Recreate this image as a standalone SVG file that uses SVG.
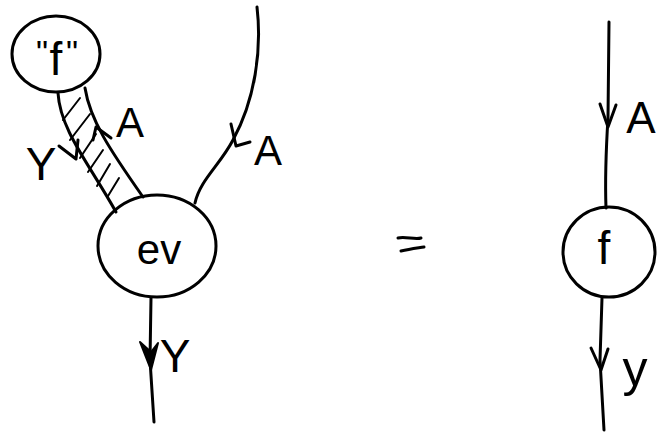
<svg xmlns="http://www.w3.org/2000/svg" width="658" height="439" viewBox="0 0 658 439">
<style>
.s{fill:none;stroke:#000;stroke-width:3;stroke-linecap:round;stroke-linejoin:round}
.h{fill:none;stroke:#000;stroke-width:2;stroke-linecap:round}
.t{font-family:"Liberation Sans",Arial,sans-serif;fill:#000}
</style>
<rect width="658" height="439" fill="#fff"/>
<g id="connectors">
  <path class="s" d="M58,93 C60,130 90,165 116,212"/>
  <path class="s" d="M85,88 C90,120 110,150 143,197"/>
  <g class="h">
    <path d="M63,120 L80,98"/><path d="M70,140 L90,114"/><path d="M80,158 L96,134"/>
    <path d="M88,172 L103,150"/><path d="M97,186 L110,164"/><path d="M108,196 L119,178"/>
  </g>
  <path class="s" d="M257,7 C262,50 255,100 233,140 C220,165 200,180 195,203"/>
  <path class="s" d="M151,298 L150,360 L154,422"/>
  <path class="s" d="M609,22 L608,118 C606,150 605,180 606,208"/>
  <path class="s" d="M602,298 L600,360 L604,430"/>
  <path class="s" d="M398,238 C405,236 415,240 421,238"/>
  <path class="s" d="M401,251 C410,249 418,248 424,247"/>
</g>
<g id="arrows">
  <path class="s" d="M59,146 L76,159 L78,140"/>
  <path class="s" d="M93,140 L96,127 L111,138"/>
  <path class="s" d="M231,124 L236,146 L250,142"/>
  <path d="M140,342 L151,370 L158,343 L151,352 Z" fill="#000" stroke="#000" stroke-width="2" stroke-linejoin="round"/>
  <path class="s" d="M600,104 L608,127 L616,105"/>
  <path class="s" d="M591,348 L601,370 L608,349"/>
</g>
<g id="node-quote-f">
  <ellipse class="s" cx="56" cy="54" rx="44" ry="38"/>
  <text class="t" x="42" y="64" font-size="34" text-anchor="middle">"</text>
  <text class="t" x="56" y="75" font-size="46" text-anchor="middle">f</text>
  <text class="t" x="72" y="64" font-size="34" text-anchor="middle">"</text>
</g>
<g id="node-ev">
  <ellipse class="s" cx="157" cy="246" rx="59" ry="51"/>
  <text class="t" x="159" y="264" font-size="42" text-anchor="middle">ev</text>
</g>
<g id="node-f">
  <ellipse class="s" cx="609" cy="252" rx="46" ry="45"/>
  <text class="t" x="604" y="264" font-size="46" text-anchor="middle">f</text>
</g>
<g id="labels">
  <text class="t" x="41" y="180" font-size="46" text-anchor="middle">Y</text>
  <text class="t" x="130" y="137" font-size="42" text-anchor="middle">A</text>
  <text class="t" x="268" y="165" font-size="42" text-anchor="middle">A</text>
  <text class="t" x="175" y="372" font-size="46" text-anchor="middle">Y</text>
  <text class="t" x="641" y="133" font-size="44" text-anchor="middle">A</text>
  <text class="t" x="635" y="386" font-size="50" text-anchor="middle">y</text>
</g>
</svg>
